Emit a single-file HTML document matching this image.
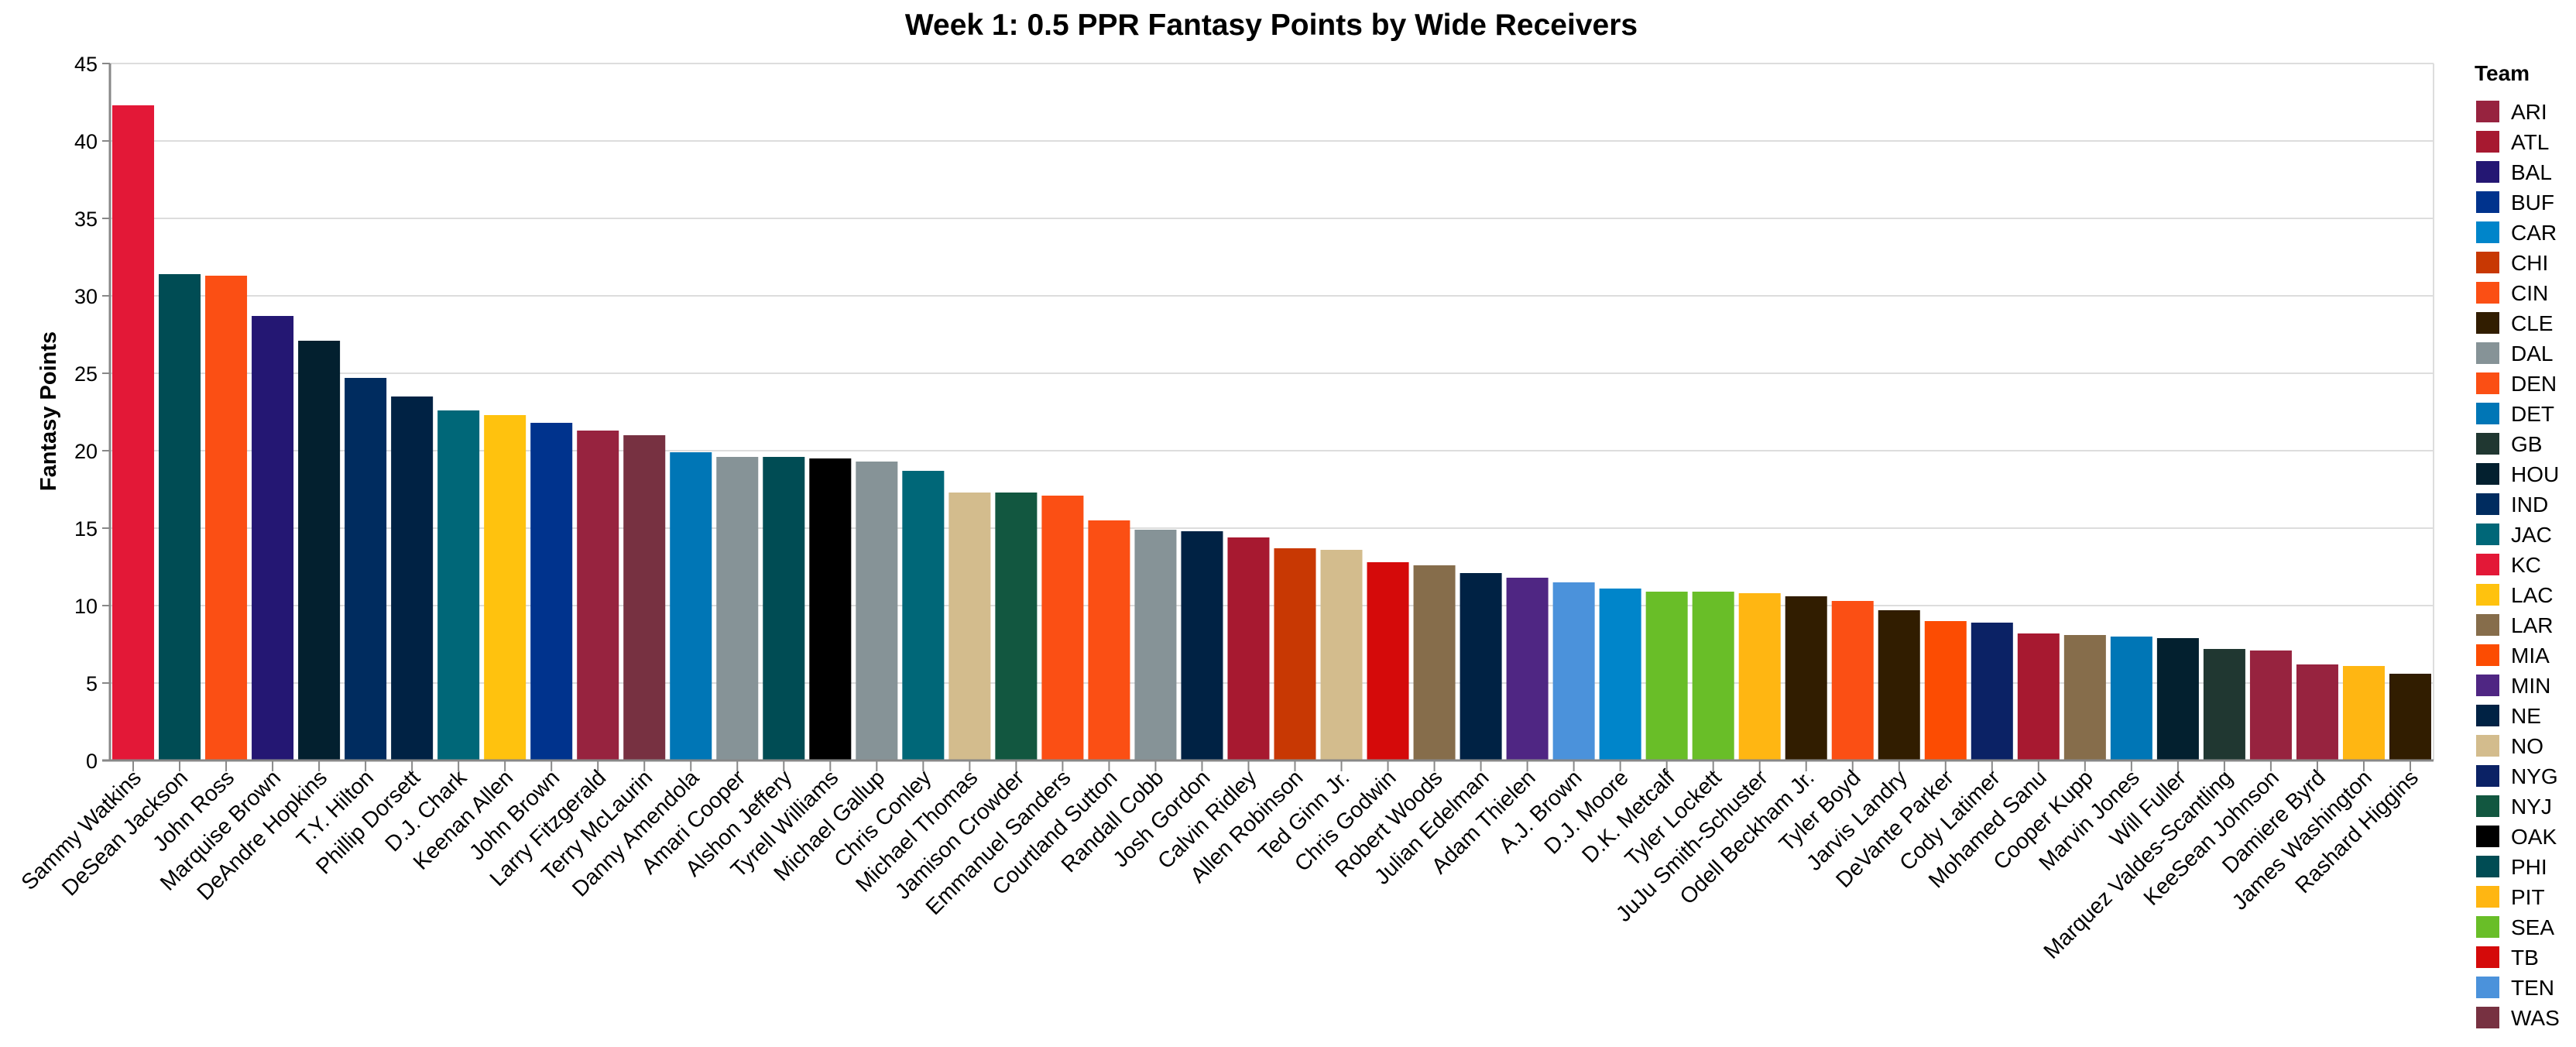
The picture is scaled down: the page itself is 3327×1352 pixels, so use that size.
<!DOCTYPE html>
<html><head><meta charset="utf-8"><style>
html,body{margin:0;padding:0;background:#fff}
svg text{font-family:"Liberation Sans",Arial,sans-serif}
</style></head><body>
<svg id="chart" width="3327" height="1347" xmlns="http://www.w3.org/2000/svg">
<text x="1642" y="45" text-anchor="middle" font-size="39" font-weight="bold">Week 1: 0.5 PPR Fantasy Points by Wide Receivers</text>
<g id="grid"></g>
<g id="bars"></g>
<g id="yaxis"></g>
<g id="xaxis"></g>
<text transform="translate(72,531) rotate(-90)" text-anchor="middle" font-size="29" font-weight="bold">Fantasy Points</text>
<g id="legend"></g>
</svg>
<script>
const players = ["Sammy Watkins","DeSean Jackson","John Ross","Marquise Brown","DeAndre Hopkins","T.Y. Hilton","Phillip Dorsett","D.J. Chark","Keenan Allen","John Brown","Larry Fitzgerald","Terry McLaurin","Danny Amendola","Amari Cooper","Alshon Jeffery","Tyrell Williams","Michael Gallup","Chris Conley","Michael Thomas","Jamison Crowder","Emmanuel Sanders","Courtland Sutton","Randall Cobb","Josh Gordon","Calvin Ridley","Allen Robinson","Ted Ginn Jr.","Chris Godwin","Robert Woods","Julian Edelman","Adam Thielen","A.J. Brown","D.J. Moore","D.K. Metcalf","Tyler Lockett","JuJu Smith-Schuster","Odell Beckham Jr.","Tyler Boyd","Jarvis Landry","DeVante Parker","Cody Latimer","Mohamed Sanu","Cooper Kupp","Marvin Jones","Will Fuller","Marquez Valdes-Scantling","KeeSean Johnson","Damiere Byrd","James Washington","Rashard Higgins"];
const points = [42.3,31.4,31.3,28.7,27.1,24.7,23.5,22.6,22.3,21.8,21.3,21.0,19.9,19.6,19.6,19.5,19.3,18.7,17.3,17.3,17.1,15.5,14.9,14.8,14.4,13.7,13.6,12.8,12.6,12.1,11.8,11.5,11.1,10.9,10.9,10.8,10.6,10.3,9.7,9.0,8.9,8.2,8.1,8.0,7.9,7.2,7.1,6.2,6.1,5.6];
const playerTeams = ["KC","PHI","CIN","BAL","HOU","IND","NE","JAC","LAC","BUF","ARI","WAS","DET","DAL","PHI","OAK","DAL","JAC","NO","NYJ","DEN","DEN","DAL","NE","ATL","CHI","NO","TB","LAR","NE","MIN","TEN","CAR","SEA","SEA","PIT","CLE","CIN","CLE","MIA","NYG","ATL","LAR","DET","HOU","GB","ARI","ARI","PIT","CLE"];
const teams = ["ARI","ATL","BAL","BUF","CAR","CHI","CIN","CLE","DAL","DEN","DET","GB","HOU","IND","JAC","KC","LAC","LAR","MIA","MIN","NE","NO","NYG","NYJ","OAK","PHI","PIT","SEA","TB","TEN","WAS"];
const teamColors = ["#97233F","#A71930","#241773","#00338D","#0085CA","#C83803","#FB4F14","#311D00","#869397","#FB4F14","#0076B6","#203731","#03202F","#002C5F","#006778","#E31837","#FFC20E","#866D4B","#FC4C02","#4F2683","#002244","#D3BC8D","#0B2265","#125740","#000000","#004C54","#FFB612","#69BE28","#D50A0A","#4B92DB","#773141"];
const yTicks = [0,5,10,15,20,25,30,35,40,45];

const NS="http://www.w3.org/2000/svg";
const X0=142, X1=3143, Y0=982, Y1=82, YMAX=45;
const band=(X1-X0)/players.length;
const xPos=i=>X0+i*band;
const yPos=v=>Y0-(v/YMAX)*(Y0-Y1);
function mk(tag,attrs,parent){const e=document.createElementNS(NS,tag);for(const k in attrs)e.setAttribute(k,attrs[k]);parent.appendChild(e);return e;}
const grid=document.getElementById('grid'),bars=document.getElementById('bars'),ya=document.getElementById('yaxis'),xa=document.getElementById('xaxis'),lg=document.getElementById('legend');
yTicks.forEach(t=>{
  const y=yPos(t);
  const g=mk('line',{x1:X0,x2:X1,y1:y,y2:y,stroke:'#ddd','stroke-width':2},grid);
  
  
  const tk=mk('line',{x1:X0-10,x2:X0,y1:y,y2:y,stroke:'#888','stroke-width':2},ya);
  
  
  const tx=mk('text',{x:X0-16,y:y+10,'text-anchor':'end','font-size':27},ya);
  tx.textContent=t;
  
  
});
const rb=mk('line',{x1:X1,x2:X1,y1:Y1,y2:Y0,stroke:'#ddd','stroke-width':2},grid);


players.forEach((p,i)=>{
  const v=points[i];
  const col=teamColors[teams.indexOf(playerTeams[i])];
  const r=mk('rect',{x:xPos(i)+band*0.05,y:yPos(v),width:band*0.9,height:Y0-yPos(v),fill:col},bars);
  
  
  const cx=xPos(i)+band/2;
  const tk=mk('line',{x1:cx,x2:cx,y1:Y0,y2:Y0+14,stroke:'#888','stroke-width':2},xa);
  
  
  const tx=mk('text',{transform:`translate(${cx+12},${Y0+24}) rotate(-45)`,'text-anchor':'end','font-size':28.5},xa);
  tx.textContent=p;
  
  
});
const ax=mk('line',{x1:X0,x2:X0,y1:Y1,y2:Y0,stroke:'#888','stroke-width':3},ya);


const bx=mk('line',{x1:X0-10,x2:X1,y1:Y0,y2:Y0,stroke:'#888','stroke-width':3},xa);


const lt=mk('text',{x:3196,y:104,'font-size':28,'font-weight':'bold'},lg);
lt.textContent='Team';


teams.forEach((t,i)=>{
  const y=144+i*39;
  const g=mk('g',{},lg);
  
  
  mk('rect',{x:3198,y:y-14,width:30,height:28,fill:teamColors[i]},g);
  const tx=mk('text',{x:3243,y:y+10,'font-size':28},g);
  tx.textContent=t;
});
</script>
</body></html>
